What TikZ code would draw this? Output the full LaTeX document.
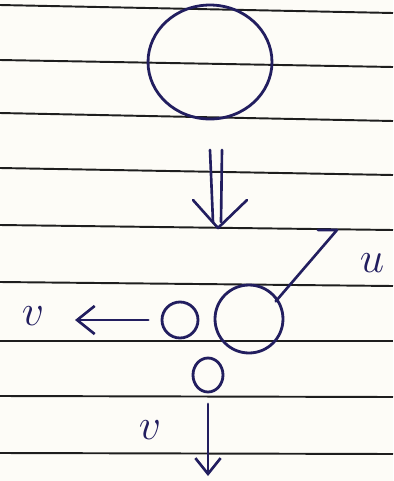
\documentclass[tikz,border=0pt]{standalone}
\usetikzlibrary{shapes.geometric, arrows.meta, positioning, calc}
\definecolor{inkblue}{RGB}{34, 30, 95}
\definecolor{ruling}{RGB}{30, 30, 30}
\definecolor{paper}{RGB}{253, 252, 247}

\begin{document}
\begin{tikzpicture}[
    x=0.02cm, y=-0.02cm,
    ball/.style={
        ellipse,
        draw=inkblue,
        line width=1.6pt,
        inner sep=0pt
    },
    inkline/.style={draw=inkblue, line width=1.5pt, line cap=round, line join=round},
    arrow/.style={inkline, -{Straight Barb[length=#1, width=1.6*#1, line width=1.5pt]}},
    arrow/.default=10pt,
    label/.style={font=\fontsize{25}{29}\selectfont, text=inkblue}
]

% Paper and ruling
\fill[paper] (0,0) rectangle (393,481);
\useasboundingbox (0,0) rectangle (393,481);
\foreach \yl/\yr in {5/13, 60/67, 113/121, 168/175, 225/230, 282/286, 341/341, 396/397, 453/454}
    \draw[ruling, line width=1.1pt] (0,\yl) -- (393,\yr);

% Ball before the collision
\node[ball, minimum width=2.48cm, minimum height=2.28cm] (ballA) at (210,62) {};

% Double arrow down
\coordinate (dtip) at (218,228);
\draw[inkline] (210,150) -- (213,222);
\draw[inkline] (222,150) -- (221,222);
\draw[inkline] (193,200) -- (dtip) -- (247,200);

% After the collision
\node[ball, minimum width=1.36cm, minimum height=1.36cm] (ballB) at (249,319) {};
\node[ball, minimum width=0.72cm, minimum height=0.72cm] (fragL) at (180,320) {};
\node[ball, minimum width=0.6cm, minimum height=0.68cm] (fragD) at (208,375) {};

% Velocities
\coordinate (utip) at (337,230);
\draw[inkline, shorten <=-2pt] (ballB.35) -- (utip) -- ++(-19,0);
\node[label] (ulbl) at (372,263) {$u$};

\coordinate (vtipL) at (75,320);
\draw[arrow=10pt, shorten <=7pt] (fragL.west) -- (vtipL);
\node[label] (vlblL) at (33,316) {$v$};

\coordinate (vtipD) at (208,476);
\draw[arrow=9pt, shorten <=6pt] (fragD.south) -- (vtipD);
\node[label] (vlblD) at (150,430) {$v$};

\end{tikzpicture}
\end{document}
